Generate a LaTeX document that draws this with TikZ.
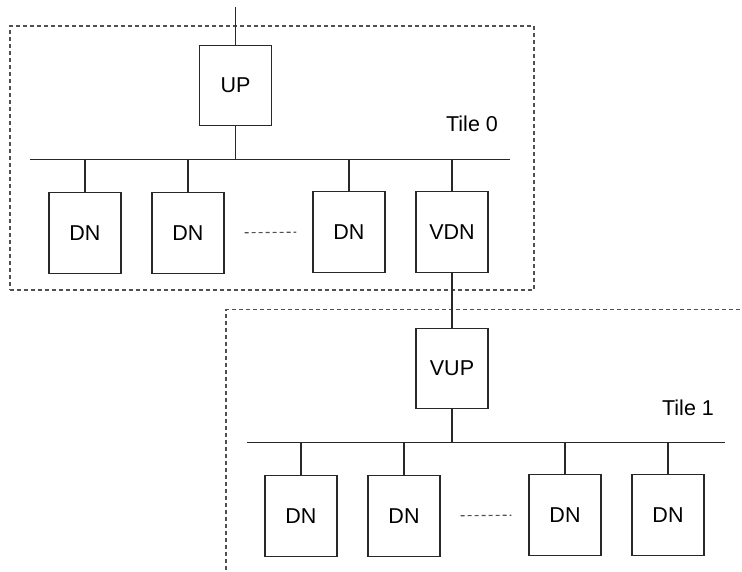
\documentclass[tikz,border=0pt]{standalone}
\usepackage{fontspec}
\setmainfont{Liberation Sans}
\definecolor{lc}{RGB}{40,40,40}
\definecolor{dc}{RGB}{80,80,80}
\begin{document}
\begin{tikzpicture}[x=1pt,y=-1pt,
  line width=1.3pt, color=lc,
  unit/.style={draw=lc, line width=1.3pt, rectangle, minimum width=72pt, minimum height=81pt, inner sep=0pt, text=black, font=\fontsize{21.5}{25}\selectfont},
  tilebox/.style={draw=dc, line width=1.1pt, dash pattern=on 4pt off 3pt, rectangle, inner sep=0pt},
  lbl/.style={font=\fontsize{21.5}{25}\selectfont, text=black, inner sep=0pt},
  gapdash/.style={draw=dc, line width=1.1pt, dash pattern=on 4pt off 3pt}
]
\useasboundingbox (0,0) rectangle (742,571);

% ---------- Tile 0 ----------
\node[tilebox, minimum width=524pt, minimum height=264pt] (tile0) at (272,158) {};
\coordinate (in0) at (235.5,7);
\node[unit, minimum height=80pt] (UP) at (235.5,85.5) {UP};
\coordinate (bus0L) at (30,159.3);
\coordinate (bus0R) at (510,159.3);
\node[unit] (DNa) at (85,233) {DN};
\node[unit] (DNb) at (188,233) {DN};
\node[unit] (DNc) at (349,232) {DN};
\node[unit] (VDN) at (452,232) {VDN};
\node[lbl] (t0) at (472,124) {Tile 0};

\draw (in0) -- (UP.north);
\draw (bus0L) -- (bus0R);
\draw (UP.south) -- (UP.south |- bus0L);
\foreach \n in {DNa,DNb,DNc,VDN} \draw (\n.north) -- (\n.north |- bus0L);
\draw[gapdash, shorten <=20pt, shorten >=16pt] (DNb.east) -- (DNc.west);

% ---------- Tile 1 ----------
\node[tilebox, minimum width=524pt, minimum height=264pt] (tile1) at (488,441.5) {};
\node[unit, minimum height=80pt] (VUP) at (452,368.5) {VUP};
\coordinate (bus1L) at (246.5,442.7);
\coordinate (bus1R) at (725,442.7);
\node[unit] (DNd) at (301,516) {DN};
\node[unit] (DNe) at (404,516) {DN};
\node[unit] (DNf) at (565,515) {DN};
\node[unit] (DNg) at (668,515) {DN};
\node[lbl] (t1) at (688,408) {Tile 1};

\draw (VDN.south) -- (VUP.north);
\draw (bus1L) -- (bus1R);
\draw (VUP.south) -- (VUP.south |- bus1L);
\foreach \n in {DNd,DNe,DNf,DNg} \draw (\n.north) -- (\n.north |- bus1L);
\draw[gapdash, shorten <=20pt, shorten >=17pt] (DNe.east) -- (DNf.west);
\end{tikzpicture}
\end{document}
